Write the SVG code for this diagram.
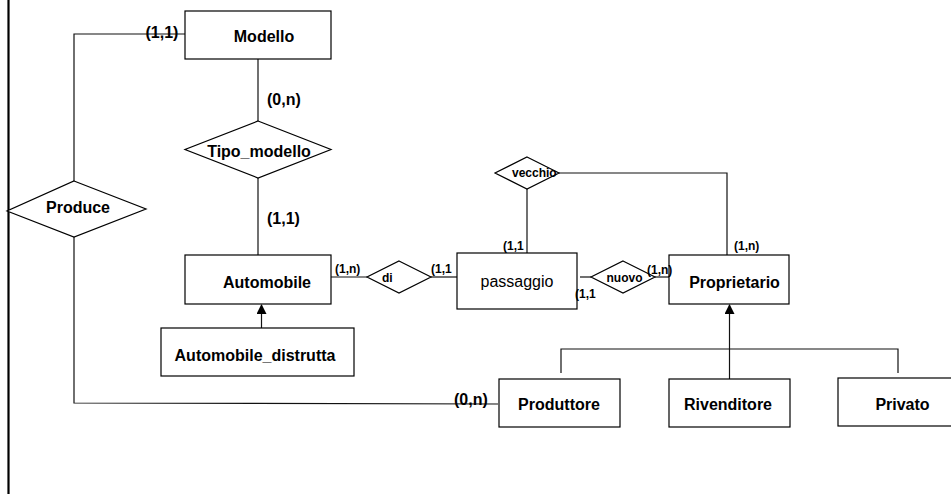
<svg xmlns="http://www.w3.org/2000/svg" width="951" height="495" viewBox="0 0 951 495">
<style>
.ent{fill:#fff;stroke:#000;stroke-width:1.2}
.rel{fill:#fff;stroke:#000;stroke-width:1.2}
.ln{fill:none;stroke:#111;stroke-width:1.2}
.t{font-family:"Liberation Sans",Arial,sans-serif;font-size:16px;font-weight:bold;fill:#000;text-anchor:middle}
.p{font-family:"Liberation Sans",Arial,sans-serif;font-size:16px;font-weight:normal;fill:#000;text-anchor:middle}
.c{font-family:"Liberation Sans",Arial,sans-serif;font-size:16px;font-weight:bold;fill:#000}
.s{font-family:"Liberation Sans",Arial,sans-serif;font-size:12px;font-weight:bold;fill:#000}
.sm{font-family:"Liberation Sans",Arial,sans-serif;font-size:12px;font-weight:bold;fill:#000;text-anchor:middle}
</style>
<defs>
<marker id="tri" markerWidth="10" markerHeight="11" refX="9" refY="5" orient="auto" markerUnits="userSpaceOnUse">
<path d="M0,0 L10,5 L0,10 z" fill="#000"/>
</marker>
</defs>
<rect width="951" height="495" fill="#fff"/>
<line x1="8.5" y1="0" x2="8.5" y2="494" stroke="#000" stroke-width="2.2"/>
<g id="connectors">
<polyline class="ln" points="185,34 74,34 74,181"/>
<polyline class="ln" points="74,237 74,403 498,404"/>
<line class="ln" x1="258" y1="59" x2="258" y2="121"/>
<line class="ln" x1="258" y1="178" x2="258" y2="255"/>
<line class="ln" x1="331" y1="277" x2="367" y2="277"/>
<line class="ln" x1="431" y1="277" x2="457" y2="277"/>
<line class="ln" x1="527" y1="189" x2="527" y2="253"/>
<polyline class="ln" points="559,173 727,173 727,255"/>
<line class="ln" x1="580" y1="277" x2="591" y2="277"/>
<line class="ln" x1="655" y1="277" x2="669" y2="277"/>
<line class="ln" x1="261.5" y1="328" x2="261.5" y2="305" marker-end="url(#tri)"/>
<line class="ln" x1="729.5" y1="379" x2="729.5" y2="305" marker-end="url(#tri)"/>
<polyline class="ln" points="561,373 561,349 898,349 898,373"/>
</g>
<g id="Modello"><rect class="ent" x="185" y="11" width="146" height="48"/><text class="t" x="264" y="42">Modello</text></g>
<g id="Tipo_modello"><polygon class="rel" points="258,121 331,149.5 258,178 185,149.5"/><text class="t" x="259" y="157">Tipo_modello</text></g>
<g id="Produce"><polygon class="rel" points="74,181 146,209 74,237 7,211"/><text class="t" x="78" y="213">Produce</text></g>
<g id="Automobile"><rect class="ent" x="185" y="255" width="146" height="49"/><text class="t" x="267" y="287.5">Automobile</text></g>
<g id="Automobile_distrutta"><rect class="ent" x="161" y="328" width="193" height="48"/><text class="t" x="255" y="360.5">Automobile_distrutta</text></g>
<g id="di"><polygon class="rel" points="399,261 431,277 399,293 367,277"/><text class="s" x="382" y="281.5">di</text></g>
<g id="passaggio"><rect class="ent" x="457" y="253" width="120" height="56"/><text class="p" x="517" y="287">passaggio</text></g>
<g id="vecchio"><polygon class="rel" points="527,157 559,173 527,189 495,173"/><text class="s" x="512" y="177">vecchio</text></g>
<g id="nuovo"><polygon class="rel" points="623,261 655,277 623,293 591,277"/><text class="sm" x="624.5" y="281.5">nuovo</text></g>
<g id="Proprietario"><rect class="ent" x="669" y="255" width="120" height="49"/><text class="t" x="734.5" y="288">Proprietario</text></g>
<g id="Produttore"><rect class="ent" x="499" y="379" width="121" height="48"/><text class="t" x="559" y="410">Produttore</text></g>
<g id="Rivenditore"><rect class="ent" x="669" y="379" width="121" height="48"/><text class="t" x="728" y="410">Rivenditore</text></g>
<g id="Privato"><rect class="ent" x="838" y="378" width="125" height="48"/><text class="t" x="902.5" y="410">Privato</text></g>
<g id="labels">
<text class="c" x="145.5" y="38">(1,1)</text>
<text class="c" x="267" y="104.5">(0,n)</text>
<text class="c" x="267" y="224">(1,1)</text>
<text class="c" x="454" y="405">(0,n)</text>
<text class="s" x="335" y="273">(1,n)</text>
<text class="s" x="431" y="273">(1,1</text>
<text class="s" x="503" y="250">(1,1</text>
<text class="s" x="734" y="250">(1,n)</text>
<text class="s" x="647" y="274">(1,n)</text>
<text class="s" x="575" y="298">(1,1</text>
</g>
</svg>
